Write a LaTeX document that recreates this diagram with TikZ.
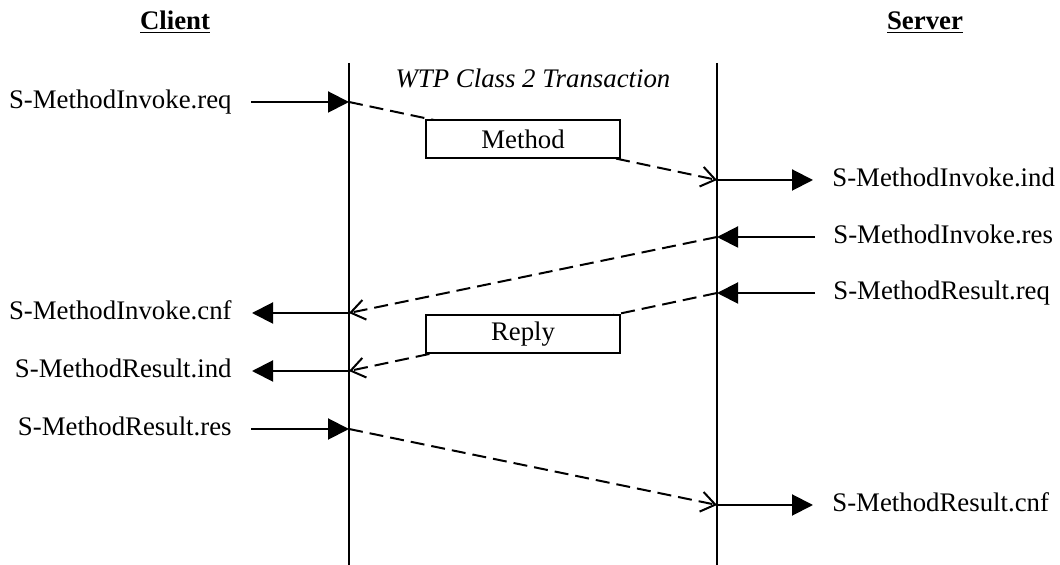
\documentclass[tikz,border=0pt]{standalone}
\usepackage{fontspec}
\setmainfont{Liberation Serif}
\usetikzlibrary{arrows.meta,positioning}
\tikzset{
  prim/.style={line width=1pt, -{Triangle[length=10.5pt,width=10.5pt]}},
  pdu/.style={line width=1pt, dash pattern=on 7pt off 3.5pt,
    -{Straight Barb[length=7pt,width=10pt,line width=1pt]}},
  pdubox/.style={draw, solid, fill=white, line width=1pt, minimum width=97pt,
    minimum height=19pt, inner sep=0pt},
  lbl/.style={inner sep=0pt, text height=9.5pt, text depth=3pt},
}
\begin{document}
\begin{tikzpicture}[x=.5pt, y=-.5pt, font=\fontsize{13.4}{16}\selectfont]
\useasboundingbox (0,0) rectangle (1060,565);
% headings
\node[lbl] (client) at (175,23) {\underline{\textbf{Client}}};
\node[lbl] (server) at (925,23) {\underline{\textbf{Server}}};
\node[lbl] (wtp) at (533,81) {\textit{WTP Class 2 Transaction}};
% lifelines
\coordinate (ctop) at (349,63);  \coordinate (cbot) at (349,565);
\coordinate (stop) at (717,63);  \coordinate (sbot) at (717,565);
\draw[line width=1pt] (ctop) -- (cbot);
\draw[line width=1pt] (stop) -- (sbot);
% points on the lifelines
\coordinate (c1) at (349,102);  \coordinate (s1) at (717,180);
\coordinate (s2) at (717,237);  \coordinate (c2) at (349,313);
\coordinate (s3) at (717,293);  \coordinate (c3) at (349,371);
\coordinate (c4) at (349,429);  \coordinate (s4) at (717,505);
% free ends of the primitives
\coordinate (x1) at (251,102);  \coordinate (y1) at (813,180);
\coordinate (y2) at (815,237);  \coordinate (x2) at (252,313);
\coordinate (y3) at (815,293);  \coordinate (x3) at (252,371);
\coordinate (x4) at (251,429);  \coordinate (y4) at (813,505);
% primitives
\draw[prim] (x1) -- (c1);  \node[lbl, left=9.5pt of x1] (invreq) {S-MethodInvoke.req};
\draw[prim] (s1) -- (y1);  \node[lbl, right=9.5pt of y1] (invind) {S-MethodInvoke.ind};
\draw[prim] (y2) -- (s2);  \node[lbl, right=9pt of y2] (invres) {S-MethodInvoke.res};
\draw[prim] (c2) -- (x2);  \node[lbl, left=10pt of x2] (invcnf) {S-MethodInvoke.cnf};
\draw[prim] (y3) -- (s3);  \node[lbl, right=9pt of y3] (resreq) {S-MethodResult.req};
\draw[prim] (c3) -- (x3);  \node[lbl, left=10pt of x3] (resind) {S-MethodResult.ind};
\draw[prim] (x4) -- (c4);  \node[lbl, left=9.5pt of x4] (resres) {S-MethodResult.res};
\draw[prim] (s4) -- (y4);  \node[lbl, right=9.5pt of y4] (rescnf) {S-MethodResult.cnf};
% PDUs
\draw[pdu] (c1) -- node[pdubox, pos=.473] (method) {Method} (s1);
\draw[pdu] (s2) -- (c2);
\draw[pdu] (s3) -- node[pdubox, pos=.527] (reply) {Reply} (c3);
\draw[pdu] (c4) -- (s4);
\end{tikzpicture}
\end{document}
